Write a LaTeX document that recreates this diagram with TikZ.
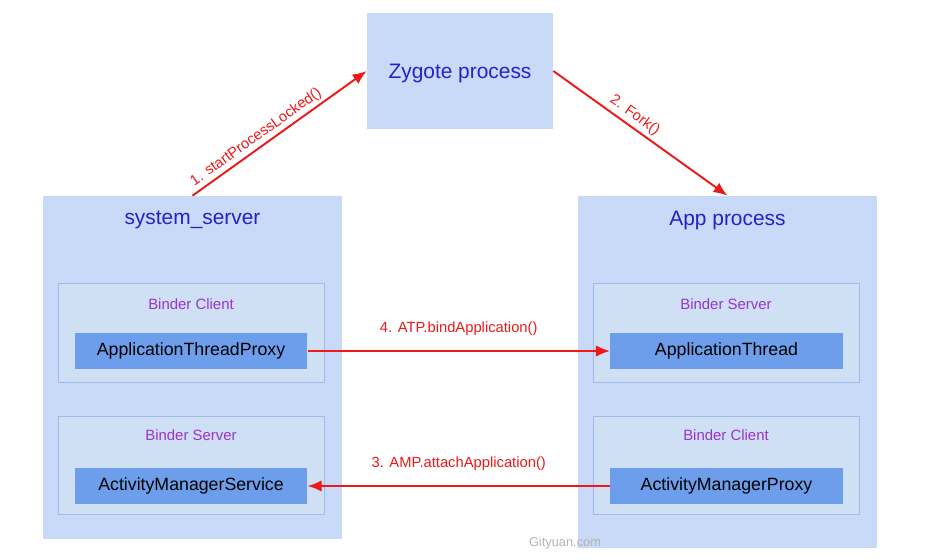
\documentclass[tikz,border=0pt]{standalone}
\usepackage{fontspec}
\setmainfont{Liberation Sans}
\usetikzlibrary{arrows.meta}

\definecolor{procfill}{HTML}{C9DAF8}
\definecolor{binderfill}{HTML}{CFE0F5}
\definecolor{binderline}{HTML}{9DBBEB}
\definecolor{objfill}{HTML}{6D9EEB}
\definecolor{titleblue}{HTML}{2222C8}
\definecolor{bindertext}{HTML}{9933CC}
\definecolor{callred}{HTML}{EE1818}

\begin{document}
\begin{tikzpicture}[x=0.02cm,y=-0.02cm]
	\tikzstyle{every node}=[inner sep=0pt,font=\fontsize{10.1}{12}\selectfont]
	\tikzstyle{process}=[fill=procfill,minimum width=5.98cm]
	\tikzstyle{title}=[text=titleblue,font=\fontsize{11.9}{14}\selectfont]
	\tikzstyle{binder}=[fill=binderfill,draw=binderline,line width=0.5pt,minimum width=5.32cm,minimum height=1.97cm]
	\tikzstyle{bindertitle}=[text=bindertext,font=\fontsize{8.5}{10}\selectfont]
	\tikzstyle{object}=[fill=objfill,minimum width=4.65cm,minimum height=0.72cm]
	\tikzstyle{call}=[draw=callred,line width=1.1pt,-{Latex[length=8pt,width=6.5pt]}]
	\tikzstyle{calltext}=[text=callred,font=\fontsize{8.4}{10}\selectfont]
	\useasboundingbox (0,0) rectangle (929,560);
	% processes
	\node[process,minimum width=3.72cm,minimum height=2.32cm] (zygote) at (460,71) {};
	\node[title] (zygotetitle) at (460,73) {Zygote process};
	\node[process,minimum height=6.86cm] (sysserver) at (192.5,367.5) {};
	\node[title] (systitle) at (192.5,220) {system\_server};
	\node[process,minimum height=7.04cm] (app) at (727.5,372) {};
	\node[title] (apptitle) at (727.5,220) {App process};
	% system_server side
	\node[binder] (sysclient) at (191,333) {};
	\node[bindertitle] (sysclienttitle) at (191,304) {Binder Client};
	\node[object] (atp) at (191,351) {ApplicationThreadProxy};
	\node[binder] (sysbinder) at (191,465.5) {};
	\node[bindertitle] (sysbindertitle) at (191,435) {Binder Server};
	\node[object] (ams) at (191,486) {ActivityManagerService};
	% app side
	\node[binder] (appbinder) at (726,333) {};
	\node[bindertitle] (appbindertitle) at (726,304) {Binder Server};
	\node[object] (at) at (726.5,351) {ApplicationThread};
	\node[binder] (appclient) at (726,465.5) {};
	\node[bindertitle] (appclienttitle) at (726,435) {Binder Client};
	\node[object] (amp) at (726.5,486) {ActivityManagerProxy};
	% calls
	\draw[call] (sysserver.north) -- node[calltext,sloped,above=1.5pt,pos=0.4] {1. startProcessLocked()} (zygote.west);
	\draw[call] (zygote.east) -- node[calltext,sloped,above=2pt,pos=0.43] {2. Fork()} (app.north);
	\draw[call] (atp.east) -- node[calltext,above=8pt] {4. ATP.bindApplication()} (at.west);
	\draw[call] (amp.west) -- node[calltext,above=8pt] {3. AMP.attachApplication()} (ams.east);
	\node[text=black!30,font=\fontsize{7.3}{9}\selectfont] (mark) at (565,543) {Gityuan.com};
\end{tikzpicture}
\end{document}
